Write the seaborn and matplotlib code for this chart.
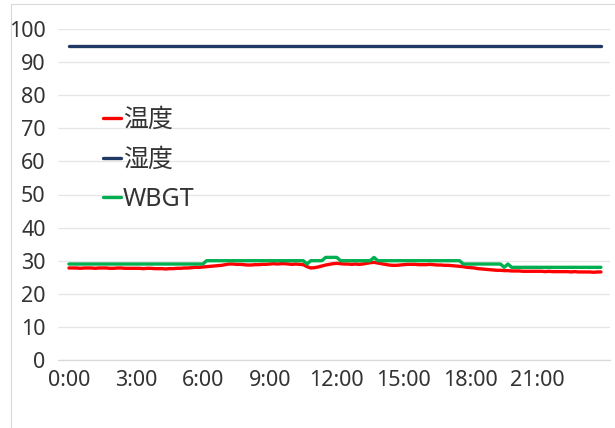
import matplotlib
matplotlib.use("Agg")
import matplotlib.pyplot as plt
from matplotlib.patches import Rectangle
import numpy as np
import pandas as pd
import seaborn as sns

# 10-minute readings over one day, 0:00 - 23:50 (one row per hour)
temperature = [
    27.8, 27.8, 27.8, 27.7, 27.8, 27.8,
    27.8, 27.7, 27.8, 27.8, 27.8, 27.7,
    27.7, 27.8, 27.8, 27.7, 27.7, 27.7,
    27.7, 27.7, 27.6, 27.7, 27.7, 27.6,
    27.6, 27.6, 27.5, 27.6, 27.6, 27.7,
    27.7, 27.8, 27.8, 27.9, 28.0, 28.0,
    28.1, 28.2, 28.3, 28.4, 28.5, 28.6,
    28.8, 29.0, 29.0, 28.9, 28.9, 28.8,
    28.7, 28.7, 28.8, 28.8, 28.9, 28.9,
    29.0, 29.1, 29.0, 29.1, 29.1, 29.0,
    28.9, 29.0, 28.9, 28.8, 28.2, 27.8,
    27.9, 28.1, 28.4, 28.7, 28.9, 29.1,
    29.2, 29.1, 29.0, 29.0, 28.9, 29.0,
    28.9, 29.0, 29.2, 29.4, 29.5, 29.3,
    29.1, 28.9, 28.7, 28.6, 28.6, 28.7,
    28.8, 28.9, 28.9, 28.9, 28.8, 28.8,
    28.8, 28.9, 28.8, 28.7, 28.7, 28.6,
    28.6, 28.5, 28.4, 28.3, 28.2, 28.0,
    27.9, 27.8, 27.6, 27.5, 27.4, 27.3,
    27.2, 27.1, 27.1, 27.0, 27.0, 26.9,
    26.9, 26.9, 26.8, 26.8, 26.8, 26.8,
    26.8, 26.8, 26.7, 26.8, 26.7, 26.7,
    26.7, 26.7, 26.7, 26.6, 26.7, 26.6,
    26.6, 26.6, 26.6, 26.5, 26.6, 26.6,
]

humidity = [
    95, 95, 95, 95, 95, 95,
    95, 95, 95, 95, 95, 95,
    95, 95, 95, 95, 95, 95,
    95, 95, 95, 95, 95, 95,
    95, 95, 95, 95, 95, 95,
    95, 95, 95, 95, 95, 95,
    95, 95, 95, 95, 95, 95,
    95, 95, 95, 95, 95, 95,
    95, 95, 95, 95, 95, 95,
    95, 95, 95, 95, 95, 95,
    95, 95, 95, 95, 95, 95,
    95, 95, 95, 95, 95, 95,
    95, 95, 95, 95, 95, 95,
    95, 95, 95, 95, 95, 95,
    95, 95, 95, 95, 95, 95,
    95, 95, 95, 95, 95, 95,
    95, 95, 95, 95, 95, 95,
    95, 95, 95, 95, 95, 95,
    95, 95, 95, 95, 95, 95,
    95, 95, 95, 95, 95, 95,
    95, 95, 95, 95, 95, 95,
    95, 95, 95, 95, 95, 95,
    95, 95, 95, 95, 95, 95,
    95, 95, 95, 95, 95, 95,
]

wbgt = [
    29, 29, 29, 29, 29, 29,
    29, 29, 29, 29, 29, 29,
    29, 29, 29, 29, 29, 29,
    29, 29, 29, 29, 29, 29,
    29, 29, 29, 29, 29, 29,
    29, 29, 29, 29, 29, 29,
    29, 30, 30, 30, 30, 30,
    30, 30, 30, 30, 30, 30,
    30, 30, 30, 30, 30, 30,
    30, 30, 30, 30, 30, 30,
    30, 30, 30, 30, 29, 30,
    30, 30, 30, 31, 31, 31,
    31, 30, 30, 30, 30, 30,
    30, 30, 30, 30, 31, 30,
    30, 30, 30, 30, 30, 30,
    30, 30, 30, 30, 30, 30,
    30, 30, 30, 30, 30, 30,
    30, 30, 30, 30, 29, 29,
    29, 29, 29, 29, 29, 29,
    29, 29, 29, 28, 29, 28,
    28, 28, 28, 28, 28, 28,
    28, 28, 28, 28, 28, 28,
    28, 28, 28, 28, 28, 28,
    28, 28, 28, 28, 28, 28,
]

series_names = ["温度", "湿度", "WBGT"]
series_colors = ["#ff0000", "#1f3864", "#00b050"]
tick_hours = [0, 3, 6, 9, 12, 15, 18, 21]
tick_labels = ["0:00", "3:00", "6:00", "9:00", "12:00", "15:00", "18:00", "21:00"]
y_ticks = [0, 10, 20, 30, 40, 50, 60, 70, 80, 90, 100]

hours = np.arange(len(temperature)) / 6.0
df = pd.DataFrame({
    "hour": np.concatenate([hours, hours, hours]),
    "value": temperature + humidity + wbgt,
    "series": [series_names[0]] * len(hours)
              + [series_names[1]] * len(hours)
              + [series_names[2]] * len(hours),
})

sns.set_theme(style="white")
plt.rcParams["font.family"] = ["Noto Sans", "Noto Sans CJK JP", "DejaVu Sans"]
text_color = "#333333"

fig = plt.figure(figsize=(6.15, 4.28), dpi=100)
fig.patch.set_facecolor("white")
fig.patches.append(Rectangle((11 / 615, -0.01), 1.0, 1.0 - 4 / 428 + 0.01,
                             transform=fig.transFigure, fill=False,
                             edgecolor="#d9d9d9", linewidth=0.8))

ax = fig.add_axes([58 / 615, 1 - 360 / 428, (610 - 58) / 615, (360 - 29) / 428])

sns.lineplot(data=df, x="hour", y="value", hue="series",
             hue_order=series_names, palette=series_colors,
             linewidth=2.4, ax=ax, legend=False)

ax.set_xlim(-0.49, 24.24)
ax.set_ylim(0, 100)
ax.set_xticks(tick_hours)
ax.set_xticklabels(tick_labels)
ax.set_yticks(y_ticks)
ax.set_xlabel("")
ax.set_ylabel("")
ax.grid(axis="y", color="#e6e6e6", linewidth=0.9)
ax.set_axisbelow(True)
for side in ["left", "right", "top"]:
    ax.spines[side].set_visible(False)
ax.spines["bottom"].set_color("#d9d9d9")
ax.spines["bottom"].set_linewidth(0.9)
ax.tick_params(axis="both", length=0, labelsize=15.5, colors=text_color)
ax.tick_params(axis="x", pad=7)
ax.tick_params(axis="y", pad=9)

handles = [plt.Line2D([], [], color=c, linewidth=2.4) for c in series_colors]
leg = ax.legend(handles, series_names, loc="upper left",
                bbox_to_anchor=(103 / 615, 1 - 108 / 428),
                bbox_transform=fig.transFigure, frameon=False,
                fontsize=18, handlelength=0.7, handletextpad=0.1,
                labelspacing=0.58, borderaxespad=0, borderpad=0)
for t in leg.get_texts():
    t.set_color(text_color)

fig.savefig("out.png", dpi=100, facecolor="white")
